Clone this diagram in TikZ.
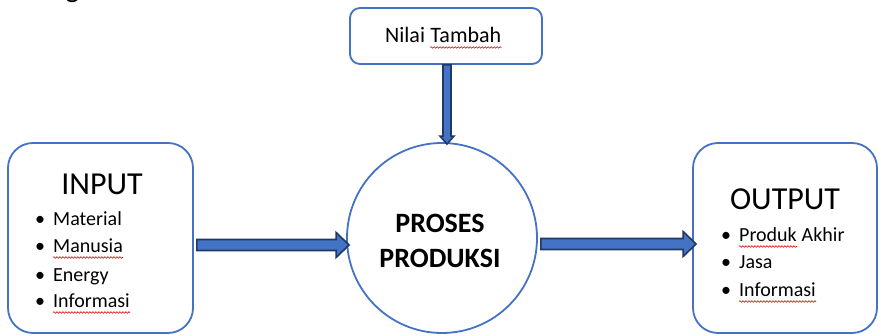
\documentclass[tikz,border=0pt]{standalone}
\usepackage{fontspec}
\setmainfont{Carlito}
\usetikzlibrary{calc,decorations.pathmorphing}

\definecolor{boxblue}{HTML}{4472C4}
\definecolor{arrownavy}{HTML}{203864}

\tikzset{
  panel/.style={draw=boxblue, line width=1.8pt, fill=white, rounded corners=#1, inner sep=0pt},
  bigtitle/.style={font=\fontsize{32}{36}\selectfont, anchor=base, inner sep=0pt},
  item/.style={font=\fontsize{20}{24}\selectfont, anchor=base west, inner sep=0pt},
  dot/.style={font=\fontsize{20}{24}\selectfont, anchor=base, inner sep=0pt},
  squig/.style={draw=red!85!black, line width=0.6pt,
    decorate, decoration={snake, segment length=3pt, amplitude=0.8pt}},
  barrow/.style={draw=arrownavy, fill=boxblue, line width=1.6pt, line join=miter}
}

% horizontal block arrow from #1 to #2 (same height)
\newcommand\harrow[2]{%
  \draw[barrow] let \p1=(#1), \p2=(#2) in
    (\x1,\y1+5.5) -- (\x2-13,\y1+5.5) -- (\x2-13,\y1+12.5) -- (\x2,\y1)
    -- (\x2-13,\y1-12.5) -- (\x2-13,\y1-5.5) -- (\x1,\y1-5.5) -- cycle;}
% vertical block arrow pointing down from #1 to #2
\newcommand\varrow[2]{%
  \draw[barrow] let \p1=(#1), \p2=(#2) in
    (\x1-4,\y1) -- (\x1-4,\y2+8) -- (\x1-7,\y2+8) -- (\x1,\y2)
    -- (\x1+7,\y2+8) -- (\x1+4,\y2+8) -- (\x1+4,\y1) -- cycle;}
% red wavy underline below a word node
\newcommand\wavy[1]{%
  \draw[squig] ($(#1.base west)+(0,-4.5)$) -- ($(#1.base east)+(0,-4.5)$);}

\begin{document}
\begin{tikzpicture}[x=1pt,y=1pt]
  \useasboundingbox (0,0) rectangle (881,336);

  % last letter of the heading above, cut by the page edge
  \node[font=\fontsize{30}{34}\selectfont, anchor=base, inner sep=0pt]
    (head) at (72.5,338) {g};

  % boxes
  \node[panel=10pt, minimum width=192pt, minimum height=56pt] (nt) at (446,300) {};
  \node[draw=boxblue, line width=1.8pt, fill=white, circle, minimum size=190pt, inner sep=0pt]
    (pp) at (442,98) {};
  \node[panel=25pt, minimum width=185pt, minimum height=190pt] (inp) at (100.5,98) {};
  \node[panel=25pt, minimum width=184pt, minimum height=190pt] (out) at (785,98) {};

  % Nilai Tambah
  \node[item, font=\fontsize{22}{26}\selectfont] (nt1) at (385,293) {Nilai};
  \node[item, font=\fontsize{22}{26}\selectfont] (nt2) at ($(nt1.base east)+(5,0)$) {Tambah};
  \wavy{nt2}

  % process
  \node[font=\bfseries\fontsize{28}{32}\selectfont, anchor=base, inner sep=0pt]
    (pp1) at (440,103) {PROSES};
  \node[font=\bfseries\fontsize{28}{32}\selectfont, anchor=base, inner sep=0pt]
    (pp2) at (440,68) {PRODUKSI};

  % input list
  \node[bigtitle] (inT) at (102,141) {INPUT};
  \foreach \y/\n/\t in {110/i1/Material, 83/i2/Manusia, 54/i3/Energy, 28/i4/Informasi}{
    \node[dot] at (40,\y) {•};
    \node[item] (\n) at (53,\y) {\t};
  }
  \wavy{i2}
  \wavy{i4}

  % output list
  \node[bigtitle] (outT) at (785,126) {OUTPUT};
  \foreach \y/\n/\t in {94/o1/Produk, 67/o2/Jasa, 39/o3/Informasi}{
    \node[dot] at (726,\y) {•};
    \node[item] (\n) at (739,\y) {\t};
  }
  \node[item] (o1b) at ($(o1.base east)+(4.5,0)$) {Akhir};
  \wavy{o1}
  \wavy{o3}

  % connectors
  \coordinate (a1s) at ($(inp.east)+(3,-7)$);
  \coordinate (a1e) at ($(pp.west)+(3,-7)$);
  \harrow{a1s}{a1e}
  \coordinate (a2s) at ($(pp.east)+(3,-6)$);
  \coordinate (a2e) at ($(out.west)+(4,-6)$);
  \harrow{a2s}{a2e}
  \coordinate (a3s) at ($(nt.south)+(1,0)$);
  \coordinate (a3e) at ($(pp.north)+(5,-2)$);
  \varrow{a3s}{a3e}
\end{tikzpicture}
\end{document}
